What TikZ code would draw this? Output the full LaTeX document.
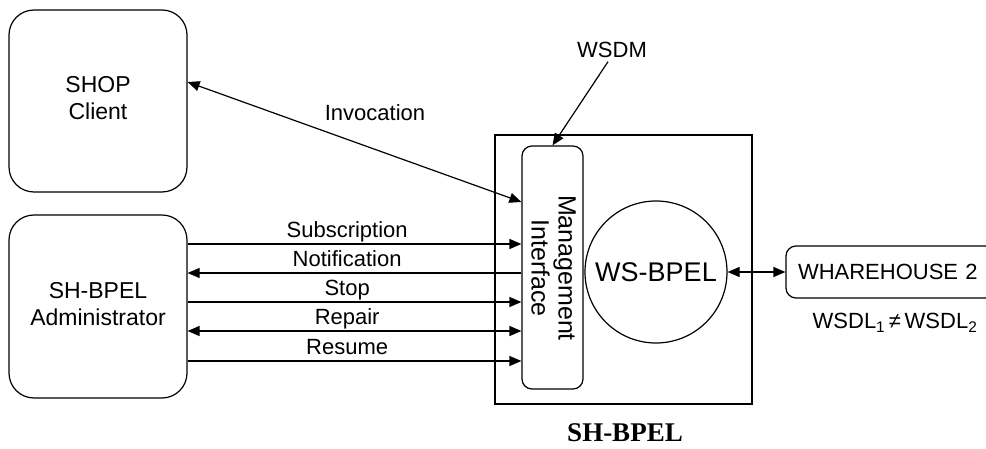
\documentclass[tikz,border=0pt]{standalone}
\usepackage{fontspec}
\setmainfont{Liberation Sans}
\newfontfamily\titlefont{Liberation Serif}
\usetikzlibrary{arrows.meta}

\tikzset{
  rbox/.style={draw, line width=1.2pt, rounded corners=#1, inner sep=0pt},
  boxtext/.style={font=\fontsize{23}{27}\selectfont, align=center},
  lbl/.style={font=\fontsize{22}{26}\selectfont},
  msg/.style={pos=0.478, anchor=base, yshift=6pt, lbl},
}

\begin{document}
\begin{tikzpicture}[x=1pt, y=-1pt, line width=1.2pt,
    >={Triangle[length=12pt, width=10pt]}]
\useasboundingbox (0,0) rectangle (986,449);
\clip (0,0) rectangle (986,449);

% actors on the left
\node[rbox=25pt, boxtext, minimum width=178pt, minimum height=182pt] (shop) at (98,101)
  {\raisebox{3pt}{\begin{tabular}{@{}c@{}}SHOP\\Client\end{tabular}}};
\node[rbox=25pt, boxtext, minimum width=178pt, minimum height=183pt] (admin) at (98,306.5)
  {\raisebox{5pt}{\begin{tabular}{@{}c@{}}SH-BPEL\\Administrator\end{tabular}}};

% the self-healing engine
\node[draw, line width=2.5pt, minimum width=257pt, minimum height=269pt, inner sep=0pt] (sys) at (623.5,269.5) {};
\node[rbox=10pt, minimum width=61pt, minimum height=243pt] (mgmt) at (552.5,267.5) {};
\node[rotate=-90, align=center, font=\fontsize{25}{27}\selectfont] (mgmttext) at (553.5,268) {Management\\Interface};
\node[circle, draw, minimum size=142pt, inner sep=0pt, font=\fontsize{27}{30}\selectfont] (ws) at (656,272) {WS-BPEL};
\node[font=\titlefont\bfseries\fontsize{27}{30}\selectfont, inner sep=0pt, anchor=base] (title) at (625,441) {SH-BPEL};

% partner service
\node[rbox=10pt, minimum height=52pt, text width=190pt, inner xsep=12pt, align=left, lbl] (wh) at (893,272) {WHAREHOUSE 2};
\node[lbl] (wsdl) at (895,323) {WSDL\textsubscript{1}\,≠\,WSDL\textsubscript{2}};

% WSDM pointer
\node[lbl] (wsdm) at (612,50) {WSDM};
\draw[->] ([xshift=-4pt]wsdm.south) -- (mgmt.north);

% invocation
\draw[<->] ([yshift=19pt]shop.east) -- ([yshift=65.5pt]mgmt.west);
\node[lbl] (invlabel) at (375,113) {Invocation};

% management messages
\draw[->]  (admin.east |- 0,244) -- (mgmt.west |- 0,244) node[msg] {Subscription};
\draw[<-]  (admin.east |- 0,273) -- (mgmt.west |- 0,273) node[msg] {Notification};
\draw[->]  (admin.east |- 0,302) -- (mgmt.west |- 0,302) node[msg] {Stop};
\draw[<->] (admin.east |- 0,331) -- (mgmt.west |- 0,331) node[msg] {Repair};
\draw[->]  (admin.east |- 0,361) -- (mgmt.west |- 0,361) node[msg] {Resume};

% engine to partner
\draw[<->] (ws.east) -- (wh.west);
\end{tikzpicture}
\end{document}
